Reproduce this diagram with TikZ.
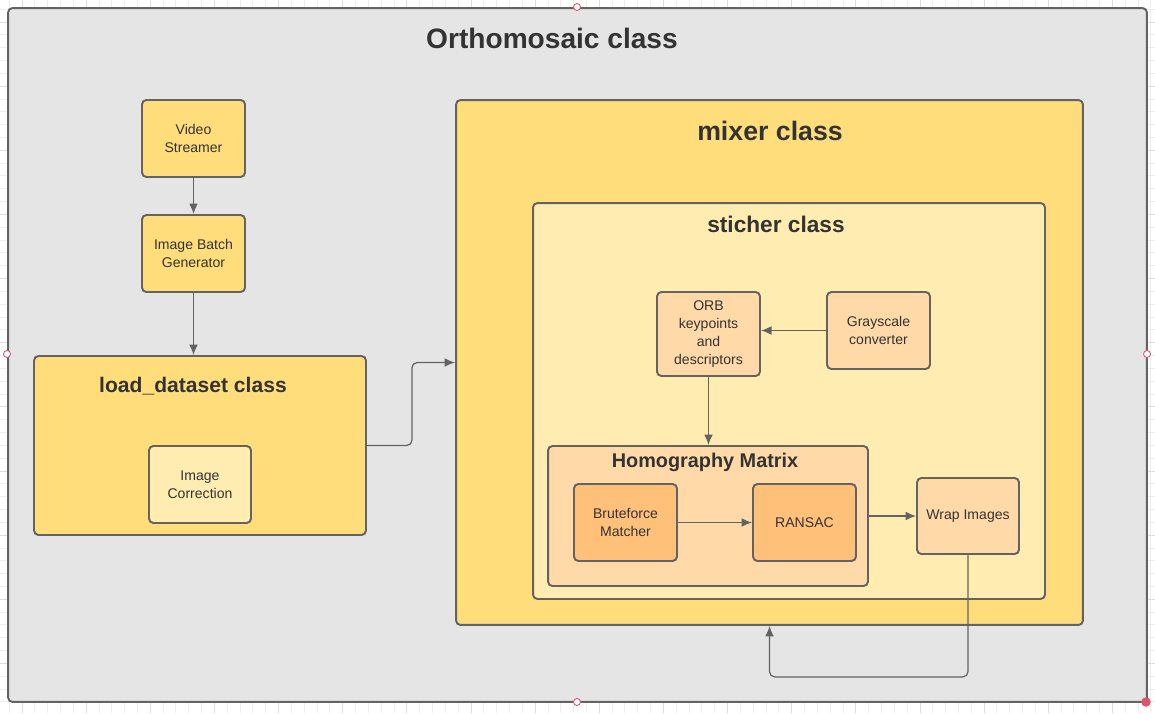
\documentclass[tikz,border=0pt]{standalone}
\usepackage{fontspec}
\setmainfont{Liberation Sans}
\usetikzlibrary{arrows.meta,positioning,calc}
\definecolor{bordergray}{HTML}{636363}
\definecolor{textgray}{HTML}{333333}
\definecolor{panelgray}{HTML}{E5E5E5}
\definecolor{yellowdark}{HTML}{FFDD7B}
\definecolor{yellowlight}{HTML}{FFECB0}
\definecolor{orangelight}{HTML}{FFDAA8}
\definecolor{orangedark}{HTML}{FFC17A}
\definecolor{handlered}{HTML}{E0546A}
\definecolor{gridminor}{HTML}{EEEEEE}
\definecolor{gridmajor}{HTML}{DDDDDD}
\tikzset{
        block/.style = {draw=bordergray, line width=1.1pt, rectangle,
            rounded corners=2.5pt, align=center, inner sep=0pt,
            text=textgray, font=\fontsize{8}{10.2}\selectfont,
            minimum width=2.06cm, minimum height=1.54cm},
        frame/.style = {block, font=\normalsize},
        title/.style = {text=textgray, font=\bfseries, inner sep=0pt},
        arrow/.style = {draw=bordergray, line width=0.7pt, rounded corners=3pt,
            -{Latex[length=6pt,width=5pt]}},
        handle/.style = {circle, draw=handlered, fill=white, line width=0.5pt,
            inner sep=0pt, minimum size=0.14cm},
    }

\begin{document}
\begin{tikzpicture}[x=0.02cm,y=-0.02cm]
    \useasboundingbox (0,0) rectangle (1155,713);

    % background grid
    \begin{scope}[shift={(22,22)}]
        \draw[gridminor, line width=0.5pt, step=0.2566cm] (-22,-22) grid (1133,691);
        \draw[gridmajor, line width=0.5pt, step=1.283cm] (-22,-22) grid (1133,691);
    \end{scope}

    % containers
    \node[frame, fill=panelgray, minimum width=22.78cm, minimum height=13.88cm] (ortho) at (577.5,355) {};
    \node[title, font=\fontsize{16}{18}\bfseries] (orthotitle) at (552,38) {Orthomosaic class};

    \node[frame, fill=yellowdark, minimum width=6.64cm, minimum height=3.58cm] (load) at (200,445.5) {};
    \node[title, font=\fontsize{12}{14}\bfseries] (loadtitle) at (193,386) {load\_dataset class};

    \node[frame, fill=yellowdark, minimum width=12.54cm, minimum height=10.5cm] (mixer) at (769.5,362.5) {};
    \node[title, font=\fontsize{15.2}{17}\bfseries] (mixertitle) at (770,131) {mixer class};

    \node[frame, fill=yellowlight, minimum width=10.24cm, minimum height=7.92cm] (sticher) at (789,401) {};
    \node[title, font=\fontsize{12.9}{15}\bfseries] (stichertitle) at (776,224) {sticher class};

    \node[frame, fill=orangelight, minimum width=6.4cm, minimum height=2.8cm] (homog) at (708,516) {};
    \node[title, font=\fontsize{11.3}{13}\bfseries] (homogtitle) at (705,462) {Homography Matrix};

    % blocks
    \node[block, fill=yellowdark] (video) at (193.5,138.5) {Video\\Streamer};
    \node[block, fill=yellowdark] (batch) at (193.5,253.5) {Image Batch\\Generator};
    \node[block, fill=yellowlight, minimum width=2.04cm] (correct) at (200,484.5) {Image\\Correction};
    \node[block, fill=orangelight, minimum height=1.68cm] (orb) at (708.5,334) {ORB\\keypoints\\and\\descriptors};
    \node[block, fill=orangelight] (gray) at (878.5,330.5) {Grayscale\\converter};
    \node[block, fill=orangedark] (brute) at (625.5,522.5) {Bruteforce\\Matcher};
    \node[block, fill=orangedark] (ransac) at (804.5,522.5) {RANSAC};
    \node[block, fill=orangelight, minimum width=2.04cm, minimum height=1.52cm] (wrap) at (968,516) {Wrap Images};

    % connectors
    \draw[arrow] (video) -- (batch);
    \draw[arrow] (batch.south) -- (batch.south |- load.north);
    \draw[arrow] (load.east) -- ++(45,0) |- (mixer.west);
    \draw[arrow] (gray.west) -- (gray.west -| orb.east);
    \draw[arrow] (orb.south) -- (orb.south |- homog.north);
    \draw[arrow] (brute) -- (ransac);
    \draw[arrow] (homog.east) -- (wrap.west);
    \draw[arrow] (wrap.south) -- ++(0,122) -| (mixer.south);

    % selection handles
    \node[handle] (htop) at (577,7) {};
    \node[handle] (hleft) at (7,354) {};
    \node[handle] (hright) at (1147,354) {};
    \node[handle] (hbottom) at (577,702) {};
    \node[handle, fill=handlered, minimum size=0.17cm] (hcorner) at (1146,702) {};
\end{tikzpicture}
\end{document}
